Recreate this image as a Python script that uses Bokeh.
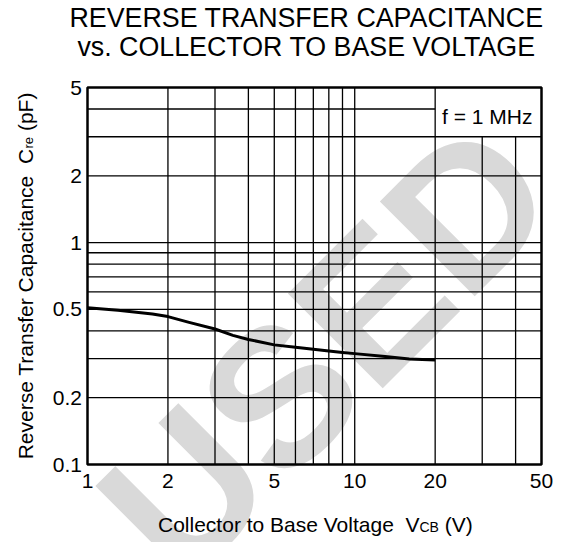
import math
from bokeh.plotting import figure
from bokeh.models import Range1d
from bokeh.core.properties import value
from bokeh.embed import file_html
from bokeh.resources import INLINE

# ---- data ----
vcb = [1, 1.3, 1.75, 2, 2.4, 3, 3.5, 4, 5, 6, 7, 8, 9, 10, 13, 16, 20]
cre = [0.508, 0.495, 0.477, 0.464, 0.437, 0.408, 0.382, 0.366, 0.346, 0.338,
       0.331, 0.325, 0.320, 0.316, 0.307, 0.299, 0.296]

x_ticks = [1, 2, 5, 10, 20, 50]
y_ticks = [0.1, 0.2, 0.5, 1, 2, 5]
x_tick_labels = ["1", "2", "5", "10", "20", "50"]
y_tick_labels = ["0.1", "0.2", "0.5", "1", "2", "5"]
grid_x = [2, 3, 4, 5, 6, 7, 8, 9, 10, 20, 30, 40]
grid_y = [0.2, 0.3, 0.4, 0.5, 0.6, 0.7, 0.8, 0.9, 1, 2, 3, 4]
x_lim = (1, 50)
y_lim = (0.1, 5)
note_box = (20, 3)   # lower-left corner of the "f = 1 MHz" note area

NB = "\u00a0"  # non-breaking space (SVG would collapse ordinary ones)
title_lines = ["REVERSE TRANSFER CAPACITANCE", "vs. COLLECTOR TO BASE VOLTAGE"]
note_text = "f = 1 MHz"
x_title = ("Collector to Base Voltage" + NB * 2 + "V", "CB", NB + "(V)")
y_title = ("Reverse Transfer Capacitance" + NB * 2 + "C", "re", NB + "(pF)")
watermark = "USED"

# ---- layout (pixels on the canvas) ----
W, H = 563, 542
L, R, T, B = 87, 541, 87, 464          # chart box
FONT = "Liberation Sans"

lx0, lx1 = math.log10(x_lim[0]), math.log10(x_lim[1])
ly0, ly1 = math.log10(y_lim[0]), math.log10(y_lim[1])
dx = (lx1 - lx0) / (R - L)
dy = (ly1 - ly0) / (B - T)


def X(px):
    return 10 ** (lx0 + (px - L) * dx)


def Y(py):
    return 10 ** (ly0 + (B - py) * dy)


p = figure(width=W, height=H, x_axis_type="log", y_axis_type="log",
           x_axis_location=None, y_axis_location=None, title=None,
           x_range=Range1d(X(0), X(W)), y_range=Range1d(Y(H), Y(0)),
           min_border=0, output_backend="svg", toolbar_location=None)
p.background_fill_color = "white"
p.border_fill_color = "white"
p.outline_line_color = None
p.xgrid.grid_line_color = None
p.ygrid.grid_line_color = None


def txt(xs, ys, texts, size="21px", align="left", angle=0.0, color="black", style="normal"):
    p.text(x=xs, y=ys, text=texts, angle=angle, text_align=align, text_baseline="middle",
           text_font=value(FONT), text_font_size=value(size), text_color=color,
           text_font_style=style)


# watermark (drawn first, behind everything)
txt([X(325)], [Y(349)], [watermark], size="195px", align="center",
    angle=math.pi / 4, color="#d9d9d9", style="bold")

# grid lines
x0, y0, x1, y1 = [], [], [], []
for v in grid_x:
    x0.append(v); x1.append(v); y0.append(y_lim[0])
    y1.append(note_box[1] if v > note_box[0] else y_lim[1])
for c in grid_y:
    y0.append(c); y1.append(c); x0.append(x_lim[0])
    x1.append(note_box[0] if c > note_box[1] else x_lim[1])
p.segment(x0=x0, y0=y0, x1=x1, y1=y1, line_color="black", line_width=1.3)

# curve
p.line(vcb, cre, line_color="black", line_width=3, line_join="round")

# chart box
p.quad(left=[x_lim[0]], right=[x_lim[1]], bottom=[y_lim[0]], top=[y_lim[1]],
       fill_color=None, line_color="black", line_width=2.5)

# tick labels
txt(x_ticks, [Y(480.5)] * len(x_ticks), x_tick_labels, align="center")
txt([X(81.5)] * len(y_ticks), y_ticks, y_tick_labels, align="right")

# note
txt([X(532)], [Y(116)], [note_text], align="right")

# title
txt([X(306)] * 2, [Y(17.5), Y(46.5)], title_lines, size="26.8px", align="center")

# x-axis title with subscript (subscript shares the baseline)
xa, xc, sub_w, sub_drop = 419, 524, 19.4, 2.5
txt([X(xa)], [Y(xc)], [x_title[0]], align="right")
txt([X(xa)], [Y(xc + sub_drop)], [x_title[1]], size="14px")
txt([X(xa + sub_w)], [Y(xc)], [x_title[2]])

# y-axis title with subscript (rotated, reads upward)
ya, yc, sub_h, sub_shift = 148, 25, 11.6, 2.9
up = math.pi / 2
txt([X(yc)], [Y(ya)], [y_title[0]], align="right", angle=up)
txt([X(yc + sub_shift)], [Y(ya)], [y_title[1]], size="13px", angle=up)
txt([X(yc)], [Y(ya - sub_h)], [y_title[2]], angle=up)

open("out.html", "w").write(file_html(p, INLINE))
